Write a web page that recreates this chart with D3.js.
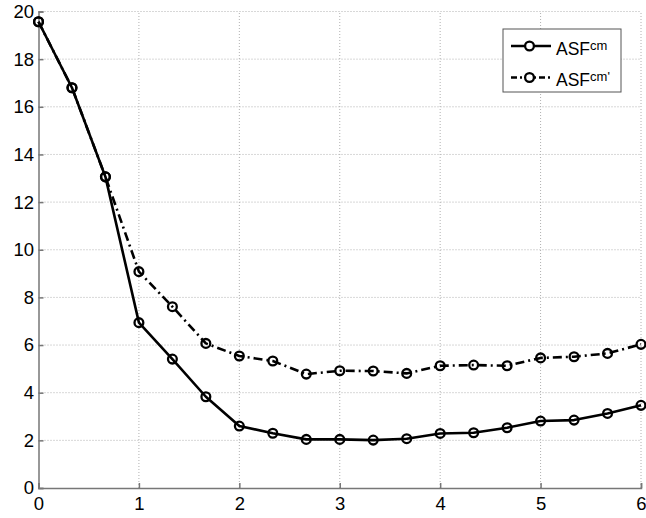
<!DOCTYPE html>
<html><head><meta charset="utf-8">
<script src="https://cdn.jsdelivr.net/npm/d3@7"></script>
<style>html,body{margin:0;padding:0;background:#fff;}</style>
</head><body>
<svg id="c" width="646" height="518"></svg>
<script>
const xValues = [0, 1/3, 2/3, 1, 4/3, 5/3, 2, 7/3, 8/3, 3, 10/3, 11/3, 4, 13/3, 14/3, 5, 16/3, 17/3, 6];
const asfCm = [19.57, 16.8, 13.06, 6.94, 5.41, 3.83, 2.6, 2.3, 2.04, 2.04, 2.01, 2.07, 2.29, 2.32, 2.53, 2.81, 2.85, 3.13, 3.47];
const asfCmPrime = [19.57, 16.8, 13.06, 9.08, 7.61, 6.07, 5.54, 5.33, 4.78, 4.92, 4.91, 4.81, 5.13, 5.16, 5.13, 5.46, 5.51, 5.65, 6.03];
const xTicks = [0, 1, 2, 3, 4, 5, 6];
const yTicks = [0, 2, 4, 6, 8, 10, 12, 14, 16, 18, 20];
const seriesNames = ["cm", "cm'"];

const svg = d3.select("#c");
const L = 38.5, R = 641, T = 11.5, B = 488;
const x = d3.scaleLinear().domain([0, 6]).range([L, R]);
const y = d3.scaleLinear().domain([0, 20]).range([B, T]);
const font = "Liberation Sans, Arial, Helvetica, sans-serif";

// grid
const grid = svg.append("g");
grid.selectAll(".gx").data(xTicks.filter(d => d > 0)).enter().append("line")
  .attr("x1", d => x(d)).attr("x2", d => x(d)).attr("y1", B).attr("y2", T)
  .attr("stroke", "#b0b0b0").attr("stroke-width", 1).attr("stroke-dasharray", "1,2");
grid.selectAll(".gy").data(yTicks.filter(d => d > 0)).enter().append("line")
  .attr("x1", L).attr("x2", R).attr("y1", d => y(d)).attr("y2", d => y(d))
  .attr("stroke", "#b0b0b0").attr("stroke-width", 1).attr("stroke-dasharray", "1,2");

// axes
const xAxis = d3.axisBottom(x).tickValues(xTicks).tickSize(-5).tickPadding(9).tickFormat(d3.format("d"));
const yAxis = d3.axisLeft(y).tickValues(yTicks).tickSize(-5).tickPadding(4.5).tickFormat(d3.format("d"));
const gx = svg.append("g").attr("transform", `translate(0,${B})`).call(xAxis);
const gy = svg.append("g").attr("transform", `translate(${L},0)`).call(yAxis);
[gx, gy].forEach(g => {
  g.select(".domain").attr("stroke", "#777").attr("stroke-width", 1.5);
  g.selectAll(".tick line").attr("stroke", "#777").attr("stroke-width", 1.5);
  g.selectAll(".tick text").attr("fill", "#000").style("font-family", font).style("font-size", "18.5px");
});
gx.selectAll(".tick text").attr("dy", "0.71em");

// series
const line = d3.line().x((d, i) => x(xValues[i])).y(d => y(d));
function drawSeries(data, dash) {
  svg.append("path").datum(data).attr("d", line).attr("fill", "none")
    .attr("stroke", "#000").attr("stroke-width", 2.6).attr("stroke-dasharray", dash)
    .attr("stroke-linejoin", "round");
  svg.append("g").selectAll("circle").data(data).enter().append("circle")
    .attr("cx", (d, i) => x(xValues[i])).attr("cy", d => y(d)).attr("r", 4.4)
    .attr("fill", "none").attr("stroke", "#000").attr("stroke-width", 2.3);
}
drawSeries(asfCmPrime, "9,4,2,4");
drawSeries(asfCm, null);

// legend
const lg = svg.append("g");
lg.append("rect").attr("x", 503).attr("y", 29).attr("width", 118).attr("height", 63)
  .attr("fill", "#fff").attr("stroke", "#555").attr("stroke-width", 1);
const rows = [{y: 46, dash: null}, {y: 77.5, dash: "6,3,2,3"}];
rows.forEach((r, i) => {
  lg.append("line").attr("x1", 511).attr("x2", 551).attr("y1", r.y).attr("y2", r.y)
    .attr("stroke", "#000").attr("stroke-width", 2.6).attr("stroke-dasharray", r.dash);
  lg.append("circle").attr("cx", 529.5).attr("cy", r.y).attr("r", 4.4)
    .attr("fill", "#fff").attr("stroke", "#000").attr("stroke-width", 2.3);
  const t = lg.append("text").attr("x", 556).attr("y", r.y + 8.8)
    .style("font-family", font).style("font-size", "17.5px").attr("fill", "#000");
  t.append("tspan").text("ASF");
  t.append("tspan").attr("dy", -5).style("font-size", "13px").text(seriesNames[i]);
});
</script>
</body></html>
